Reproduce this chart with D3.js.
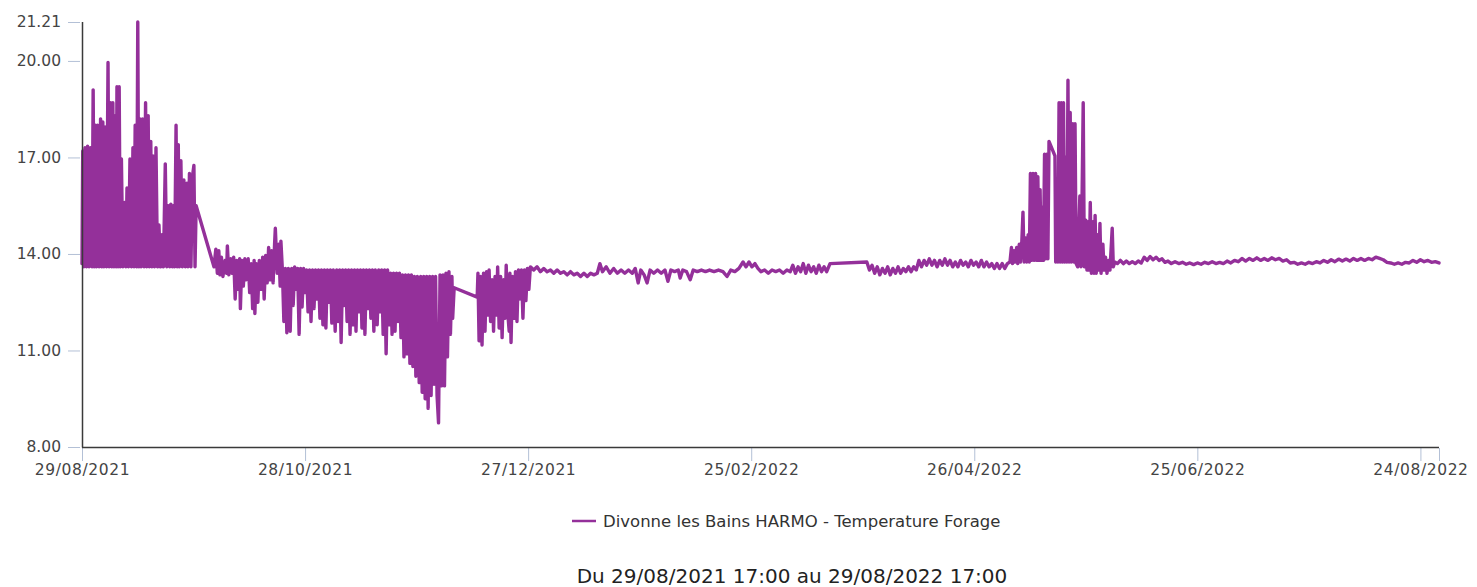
<!DOCTYPE html>
<html>
<head>
<meta charset="utf-8">
<script src="https://cdn.jsdelivr.net/npm/d3@7"></script>
<style>
  html, body { margin: 0; padding: 0; background: #fff; }
  svg { display: block; font-family: "DejaVu Sans", sans-serif; }
</style>
</head>
<body>
<svg id="chart" width="1477" height="587"></svg>
<script>
// Borehole temperature, Divonne les Bains HARMO — [days since start, °C].
const START = "29/08/2021 17:00", END = "29/08/2022 17:00";
const SERIES = "Divonne les Bains HARMO - Temperature Forage";
const PERIOD = "Du 29/08/2021 17:00 au 29/08/2022 17:00";
const yTicks = [8, 11, 14, 17, 20, 21.21];
const xTickLabels = ["29/08/2021", "28/10/2021", "27/12/2021", "25/02/2022",
                     "26/04/2022", "25/06/2022", "24/08/2022"];

// late summer: daily spikes above ~13.6
const tempA = [[0,13.7],[0.2,17.2],[0.5,13.6],[0.8,17.3],[1.2,13.6],[1.5,17.35],[1.9,13.6],[2.3,17.3],
  [2.7,13.6],[3.0,19.1],[3.3,13.6],[3.6,18.0],[3.9,13.6],[4.2,18.0],[4.6,13.6],[5.0,18.2],[5.3,13.6],
  [5.6,18.1],[5.9,13.6],[6.2,17.95],[6.6,13.6],[7.0,19.95],[7.3,13.6],[7.7,18.7],[8.0,13.6],[8.3,18.7],
  [8.6,13.6],[8.9,18.3],[9.2,13.6],[9.4,19.2],[9.7,13.6],[10.0,19.2],[10.3,13.6],[10.6,16.95],[11.0,13.6],
  [11.4,15.6],[11.8,13.6],[12.1,16.05],[12.5,13.6],[12.9,16.95],[13.3,13.6],[13.7,17.3],[14.0,13.6],
  [14.3,18.0],[14.7,13.6],[15.0,21.21],[15.3,13.6],[15.6,18.2],[15.9,13.6],[16.3,18.2],[16.7,13.6],
  [17.1,18.7],[17.4,13.6],[17.8,18.3],[18.1,13.6],[18.5,17.5],[18.8,13.6],[19.1,17.05],[19.5,13.6],
  [19.9,17.3],[20.3,13.6],[20.7,14.9],[21.1,13.6],[21.5,14.6],[21.9,13.6],[22.4,16.8],[22.8,13.6],
  [23.2,15.5],[23.6,13.6],[23.9,15.55],[24.3,13.6],[24.6,15.5],[24.9,13.6],[25.3,18.0],[25.6,13.6],
  [25.9,17.4],[26.2,13.6],[26.6,16.9],[27.0,13.6],[27.4,16.3],[27.8,13.6],[28.2,16.2],[28.5,13.6],
  [28.9,16.5],[29.3,13.6],[29.7,16.4],[30.1,16.75],[30.4,13.6],[30.7,15.5]];

// autumn: ~13.5 with cold dips, deepest late November
const tempB = [[35.5,13.6],[36.0,14.15],[36.4,13.4],[36.8,14.1],[37.1,13.35],[37.5,13.9],[37.9,13.3],
  [38.5,13.8],[38.9,13.4],[39.1,14.25],[39.5,13.35],[40.0,13.85],[40.4,13.4],[40.8,13.9],[41.2,12.6],
  [41.6,13.8],[42.0,12.9],[42.4,13.85],[42.6,12.3],[43.0,13.8],[43.4,13.0],[43.8,13.85],[44.2,13.2],
  [44.7,13.85],[45.1,12.8],[45.5,13.7],[45.9,12.3],[46.3,13.8],[46.5,12.15],[46.9,13.7],[47.3,12.5],
  [47.7,13.8],[48.2,12.9],[48.6,13.9],[49.0,12.6],[49.4,13.95],[49.8,13.1],[50.2,14.2],[50.6,13.2],
  [51.0,14.1],[51.4,13.1],[51.8,14.3],[52.0,14.8],[52.5,13.4],[52.9,14.3],[53.3,13.0],[53.5,14.4],
  [53.9,13.5],[54.3,11.9],[54.7,13.55],[55.1,11.55],[55.5,13.55],[56.0,11.6],[56.4,13.55],[56.8,12.4],
  [57.2,13.6],[57.6,12.9],[58.0,13.55],[58.4,11.5],[58.8,13.55],[59.2,12.35],[59.6,13.55],[60.0,12.8],
  [60.4,13.5],[60.8,12.2],[61.2,13.5],[61.6,11.9],[62.0,13.5],[62.4,12.3],[62.8,13.5],[63.2,12.6],
  [63.6,13.5],[64.0,12.0],[64.4,13.5],[64.8,11.8],[65.2,13.5],[65.6,11.7],[66.0,13.5],[66.4,12.5],
  [66.8,13.5],[67.2,11.85],[67.6,13.5],[68.1,11.6],[68.5,13.5],[68.9,11.9],[69.3,13.5],[69.7,11.25],
  [70.1,13.5],[70.5,12.4],[70.9,13.5],[71.3,11.9],[71.7,13.5],[72.1,11.5],[72.5,13.5],[72.9,11.8],
  [73.3,13.5],[73.7,11.6],[74.1,13.5],[74.5,12.2],[74.9,13.5],[75.3,11.7],[75.7,13.5],[76.1,11.5],
  [76.5,13.5],[76.9,12.3],[77.3,13.5],[77.7,12.0],[78.1,13.5],[78.5,11.6],[78.9,13.5],[79.4,11.8],
  [79.8,13.5],[80.2,12.2],[80.6,13.5],[81.0,11.5],[81.4,13.5],[81.8,10.9],[82.2,13.5],[82.6,11.8],
  [83.0,13.4],[83.4,11.5],[83.8,13.4],[84.2,11.6],[84.6,13.4],[85.0,11.9],[85.4,13.4],[85.8,11.4],
  [86.2,13.35],[86.6,10.8],[87.0,13.35],[87.4,10.9],[87.8,13.35],[88.2,10.6],[88.6,13.35],[89.0,10.5],
  [89.4,13.3],[89.8,10.2],[90.2,13.3],[90.7,10.0],[91.1,13.3],[91.5,9.7],[91.9,13.3],[92.3,9.5],
  [92.7,13.3],[93.1,9.2],[93.5,13.3],[93.9,9.6],[94.3,13.3],[94.7,9.95],[95.1,13.3],[95.5,9.6],
  [95.9,8.75],[96.3,13.35],[96.7,9.9],[97.1,13.35],[97.5,9.9],[97.9,13.4],[98.3,10.8],[98.7,13.45],
  [99.1,11.5],[99.5,13.3],[99.7,12.0],[100.1,12.95]];

// December block after the gap
const tempC = [[106.3,12.66],[106.5,13.4],[106.8,11.3],[107.2,13.3],[107.6,11.17],[108.0,13.4],
  [108.4,11.6],[108.8,13.45],[109.2,12.1],[109.5,13.5],[109.9,11.9],[110.3,13.2],[110.7,11.6],
  [111.1,13.3],[111.5,12.1],[111.8,13.6],[112.2,11.7],[112.6,13.3],[113.0,11.4],[113.4,13.2],
  [113.8,12.0],[114.1,13.65],[114.5,12.2],[114.9,11.6],[115.1,13.4],[115.4,11.25],[115.8,13.3],
  [116.2,12.0],[116.6,13.45],[117.0,11.9],[117.4,13.5],[117.8,12.6],[118.2,13.5],[118.6,12.0],
  [119.0,13.5],[119.4,12.55],[119.8,13.55],[120.2,12.9],[120.6,13.6]];

// winter: flat ~13.45
const tempD = [[121.5,13.5],[122.4,13.6],[123.3,13.45],[124.2,13.55],[125.1,13.45],[126,13.5],
  [126.9,13.4],[127.8,13.5],[128.7,13.4],[129.6,13.45],[130.5,13.35],[131.4,13.45],[132.3,13.35],
  [133.2,13.4],[134.1,13.3],[135,13.4],[135.9,13.3],[136.8,13.4],[137.7,13.35],[138.6,13.4],
  [139.3,13.7],[140,13.45],[141,13.6],[142,13.4],[143,13.55],[144,13.4],[145,13.5],[146,13.4],
  [147,13.5],[148,13.4],[148.8,13.55],[149.6,13.1],[150.3,13.5],[151.2,13.35],[152,13.1],[152.8,13.5],
  [153.8,13.4],[154.8,13.5],[155.8,13.4],[156.8,13.5],[157.6,13.15],[158.4,13.5],[159.4,13.45],
  [160.4,13.5],[160.9,13.25],[161.6,13.5],[162.6,13.45],[163.6,13.2],[164.4,13.5],[165.5,13.45],
  [166.6,13.5],[167.7,13.45],[168.8,13.5],[170,13.45],[171.2,13.5],[172.4,13.45],[173.5,13.3],
  [174.5,13.5],[175.6,13.45],[176.7,13.55],[177.8,13.75],[178.6,13.6],[179.4,13.75],[180.2,13.6],
  [181,13.7],[181.8,13.55],[182.6,13.45],[183.6,13.5],[184.6,13.4],[185.6,13.5],[186.6,13.45],
  [187.6,13.5],[188.6,13.4],[189.6,13.5],[190.5,13.45],[191.2,13.65],[191.9,13.4],[192.6,13.6],
  [193.3,13.45],[194,13.7],[194.7,13.4],[195.4,13.65],[196.1,13.45],[196.8,13.6],[197.5,13.4],
  [198.2,13.65],[198.9,13.45],[199.6,13.6],[200.3,13.45],[201.2,13.7]];

// spring, after the gap
const tempE = [[211.1,13.75],[211.8,13.5],[212.5,13.65],[213.2,13.4],[213.9,13.6],[214.6,13.35],
  [215.3,13.55],[216,13.4],[216.7,13.6],[217.4,13.35],[218.1,13.55],[218.8,13.4],[219.5,13.6],
  [220.2,13.4],[220.9,13.55],[221.6,13.45],[222.3,13.6],[223,13.45],[223.7,13.6],[224.4,13.5],
  [225.1,13.8],[225.8,13.6],[226.5,13.8],[227.2,13.65],[227.9,13.85],[228.6,13.65],[229.3,13.8],
  [230,13.6],[230.7,13.8],[231.4,13.65],[232.1,13.85],[232.8,13.65],[233.5,13.8],[234.2,13.6],
  [234.9,13.75],[235.6,13.6],[236.3,13.8],[237,13.65],[237.7,13.75],[238.4,13.6],[239.1,13.8],
  [239.8,13.65],[240.5,13.75],[241.2,13.6],[241.9,13.8],[242.6,13.6],[243.3,13.75],[244,13.6],
  [244.7,13.7],[245.4,13.55],[246.1,13.7],[246.8,13.55],[247.5,13.7],[248.2,13.55],[248.9,13.7]];

// May: warm spikes
const tempF = [[249.6,13.75],[250.0,14.2],[250.3,13.7],[250.7,14.1],[251.0,13.75],[251.4,14.2],
  [251.7,13.7],[252.1,14.3],[252.4,13.75],[252.8,14.4],[253.1,15.3],[253.4,13.75],[253.8,14.5],
  [254.1,13.75],[254.5,14.6],[254.8,13.75],[255.1,16.5],[255.4,13.8],[255.8,16.5],[256.1,13.8],
  [256.5,16.5],[256.8,13.8],[257.1,16.4],[257.4,13.8],[257.7,16.0],[258.0,13.8],[258.3,15.45],
  [258.6,13.8],[258.9,17.1],[259.2,13.85],[259.5,17.1],[259.8,13.85],[260.1,17.5],[261.7,17.05],
  [261.9,13.75],[262.2,15.5],[262.5,13.75],[262.8,18.7],[263.1,13.75],[263.4,18.7],[263.7,13.75],
  [264.0,18.7],[264.3,13.75],[264.6,17.0],[264.9,13.75],[265.2,19.4],[265.5,13.75],[265.8,18.4],
  [266.1,13.75],[266.5,18.05],[266.8,13.75],[267.1,18.05],[267.4,13.7],[267.8,13.6],[268.4,15.8],
  [268.7,13.6],[269.0,15.8],[269.3,18.7],[269.6,13.6],[270.0,15.05],[270.3,13.5],[270.6,15.0],
  [270.9,13.5],[271.2,15.6],[271.5,13.4],[271.9,15.0],[272.2,13.4],[272.5,15.2],[272.8,13.4],
  [273.2,14.6],[273.5,13.5],[273.8,14.95],[274.1,13.4],[274.6,14.3],[274.9,13.5],[275.3,13.9],
  [275.7,13.4],[276.1,13.8],[276.5,13.5],[277.1,14.8],[277.4,13.6],[277.8,13.75]];

// summer: flat ~13.75
const tempG = [[278.5,13.7],[279.3,13.8],[280.1,13.7],[280.9,13.78],[281.7,13.7],[282.5,13.76],
  [283.3,13.7],[284.1,13.78],[284.9,13.72],[285.7,13.9],[286.5,13.8],[287.3,13.92],[288.1,13.82],
  [288.9,13.9],[289.7,13.8],[290.5,13.85],[291.3,13.74],[292.1,13.78],[293,13.7],[294,13.76],
  [295,13.7],[296,13.74],[297,13.68],[298,13.72],[299,13.67],[300,13.72],[301,13.68],[302,13.74],
  [303,13.7],[304,13.76],[305,13.7],[306,13.74],[307,13.7],[308,13.78],[309,13.72],[310,13.8],
  [311,13.76],[312,13.86],[313,13.78],[314,13.86],[315,13.8],[316,13.88],[317,13.8],[318,13.86],
  [319,13.8],[320,13.88],[321,13.82],[322,13.86],[323,13.78],[324,13.82],[325,13.72],[326,13.74],
  [327,13.68],[328,13.72],[329,13.68],[330,13.74],[331,13.7],[332,13.76],[333,13.72],[334,13.8],
  [335,13.74],[336,13.82],[337,13.76],[338,13.84],[339,13.78],[340,13.84],[341,13.78],[342,13.86],
  [343,13.8],[344,13.86],[345,13.8],[346,13.86],[347,13.82],[348,13.9],[349,13.86],[350,13.82],
  [351,13.74],[352,13.72],[353,13.68],[354,13.72],[355,13.68],[356,13.74],[357,13.72],[358,13.8],
  [359,13.74],[360,13.82],[361,13.76],[362,13.8],[363,13.74],[364,13.76],[365,13.72]];

const PURPLE = "#94309a", AXIS = "#3a3a3a", TICK = "#b3c0d6", LABEL = "#444";
const DAY = 864e5;

const parse = d3.timeParse("%d/%m/%Y %H:%M");
const t0 = parse(START), t1 = parse(END);
const x = d3.scaleTime([t0, t1], [82, 1439]);
const y = d3.scaleLinear([8, 21.21], [447, 22]);
const svg = d3.select("#chart");

const pts = [].concat(tempA, tempB, tempC, tempD, tempE, tempF, tempG)
  .map(([d, v]) => [new Date(+t0 + d * DAY), v]);

// x ticks every 60 days from the start, plus the closing tick
const tickDates = xTickLabels.map((s, i) => new Date(+t0 + i * 60 * DAY)).concat([t1]);

svg.append("g").attr("transform", "translate(80,0)")
  .call(d3.axisLeft(y).tickValues(yTicks).tickFormat(d3.format(".2f")).tickSize(12).tickPadding(7))
  .call((g) => g.select(".domain").remove())
  .call((g) => g.selectAll(".tick line").attr("stroke", TICK))
  .call((g) => g.selectAll(".tick text").attr("fill", LABEL)
    .attr("font-size", 15.5).attr("font-family", "DejaVu Sans"));

svg.append("g").attr("transform", "translate(0,448)")
  .call(d3.axisBottom(x).tickValues(tickDates)
    .tickFormat((d, i) => xTickLabels[i] || "").tickSize(13).tickPadding(3))
  .call((g) => g.select(".domain").remove())
  .call((g) => g.selectAll(".tick line").attr("stroke", TICK))
  .call((g) => g.selectAll(".tick text").attr("fill", LABEL)
    .attr("font-size", 15.5).attr("letter-spacing", 0.6).attr("font-family", "DejaVu Sans"));

svg.append("path").datum(pts)
  .attr("d", d3.line().x((p) => x(p[0])).y((p) => y(p[1])))
  .attr("fill", "none").attr("stroke", PURPLE).attr("stroke-width", 3.4)
  .attr("stroke-linejoin", "round").attr("stroke-linecap", "round");

// axis lines
svg.append("line").attr("x1", 82.5).attr("x2", 82.5).attr("y1", y(21.21)).attr("y2", 447.5)
  .attr("stroke", AXIS).attr("stroke-width", 1.5);
svg.append("line").attr("x1", 82).attr("x2", x(t1)).attr("y1", 447.5).attr("y2", 447.5)
  .attr("stroke", AXIS).attr("stroke-width", 1.5);

// legend
const lg = svg.append("g").attr("transform", "translate(572,521)");
lg.append("line").attr("x1", 0).attr("x2", 24).attr("stroke", PURPLE).attr("stroke-width", 2.5);
lg.append("text").attr("x", 31).attr("dy", "0.35em").attr("font-size", 16.5)
  .attr("fill", "#333").text(SERIES);

svg.append("text").attr("x", 792).attr("y", 583).attr("text-anchor", "middle")
  .attr("font-size", 20).attr("fill", "#222").text(PERIOD);
</script>
</body>
</html>
